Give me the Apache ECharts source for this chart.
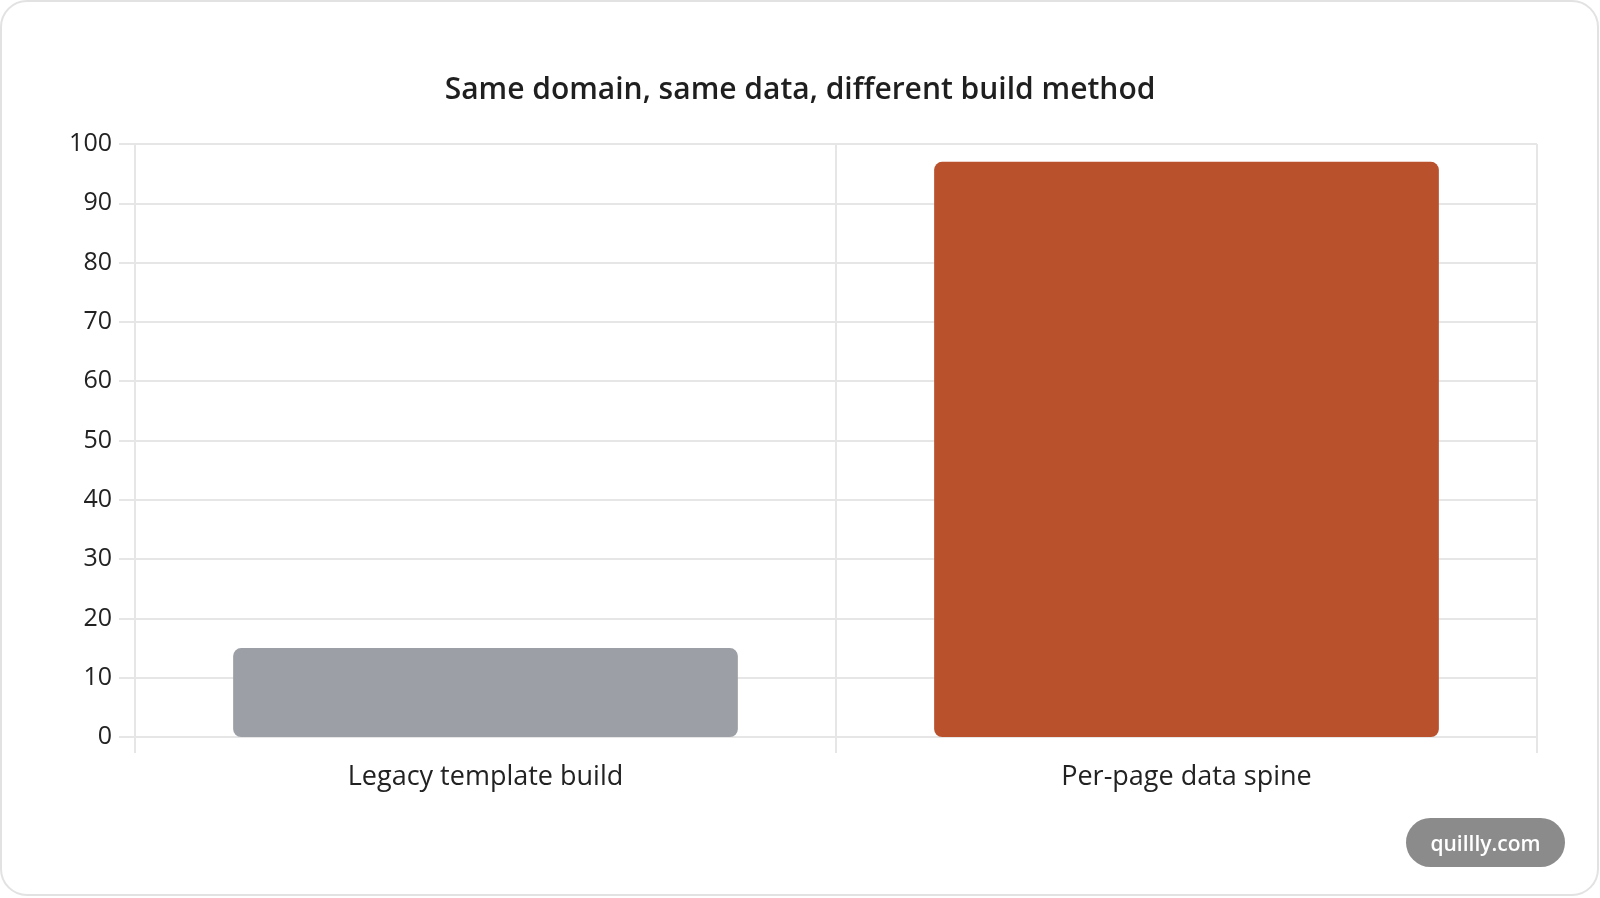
<!DOCTYPE html>
<html>
<head>
<meta charset="utf-8">
<script src="https://cdn.jsdelivr.net/npm/echarts@6/dist/echarts.min.js"></script>
<style>
html,body{margin:0;padding:0;background:#fff;}
#chart{width:1600px;height:898px;}
</style>
</head>
<body>
<div id="chart"></div>
<script>
const categories = ["Legacy template build", "Per-page data spine"];
const values = [15, 97];
const yTicks = [0, 10, 20, 30, 40, 50, 60, 70, 80, 90, 100];
const titleText = "Same domain, same data, different build method";
const watermarkText = "quillly.com";

const palette = ["#9ca0a6", "#b9512c"];
const font = "'Open Sans', 'Noto Sans', sans-serif";
const gridColor = "#e6e6e6";

const chart = echarts.init(document.getElementById('chart'), null, {renderer: 'canvas'});
chart.setOption({
  animation: false,
  backgroundColor: '#ffffff',
  title: {
    text: titleText,
    left: 'center',
    top: 70,
    textStyle: {fontFamily: font, fontSize: 30, fontWeight: 600, color: '#1f1f1f'}
  },
  grid: {left: 135, right: 63, top: 144, bottom: 161, containLabel: false},
  xAxis: {
    type: 'category',
    data: categories,
    axisLine: {show: true, lineStyle: {color: gridColor, width: 2}},
    axisTick: {show: true, length: 16, lineStyle: {color: gridColor, width: 2}},
    splitLine: {show: true, lineStyle: {color: gridColor, width: 2}},
    axisLabel: {fontFamily: font, fontSize: 27, color: '#222', margin: 27}
  },
  yAxis: {
    type: 'value',
    min: yTicks[0],
    max: yTicks[yTicks.length - 1],
    interval: yTicks[1] - yTicks[0],
    axisLine: {show: true, lineStyle: {color: gridColor, width: 2}},
    axisTick: {show: true, length: 16, lineStyle: {color: gridColor, width: 2}},
    splitLine: {show: true, lineStyle: {color: gridColor, width: 2}},
    axisLabel: {fontFamily: font, fontSize: 25, color: '#222', margin: 23, padding: [3, 0, 0, 0]}
  },
  series: [{
    type: 'bar',
    data: values,
    barWidth: '72%',
    itemStyle: {
      borderRadius: 8,
      color: function (p) { return palette[p.dataIndex]; }
    }
  }],
  graphic: [
    {
      type: 'rect',
      shape: {x: 1, y: 1, width: 1597, height: 894, r: 26},
      style: {fill: 'none', stroke: '#e2e2e2', lineWidth: 2},
      silent: true, z: 100
    },
    {
      type: 'group',
      left: 1406, top: 818,
      children: [
        {type: 'rect', shape: {x: 0, y: 0, width: 159, height: 49, r: 24.5},
         style: {fill: '#8b8b8b'}},
        {type: 'text', x: 79.5, y: 27,
         style: {text: watermarkText, fill: '#ffffff', font: "600 21px 'Open Sans', sans-serif",
                 textAlign: 'center', textVerticalAlign: 'middle'}}
      ]
    }
  ]
});
</script>
</body>
</html>
